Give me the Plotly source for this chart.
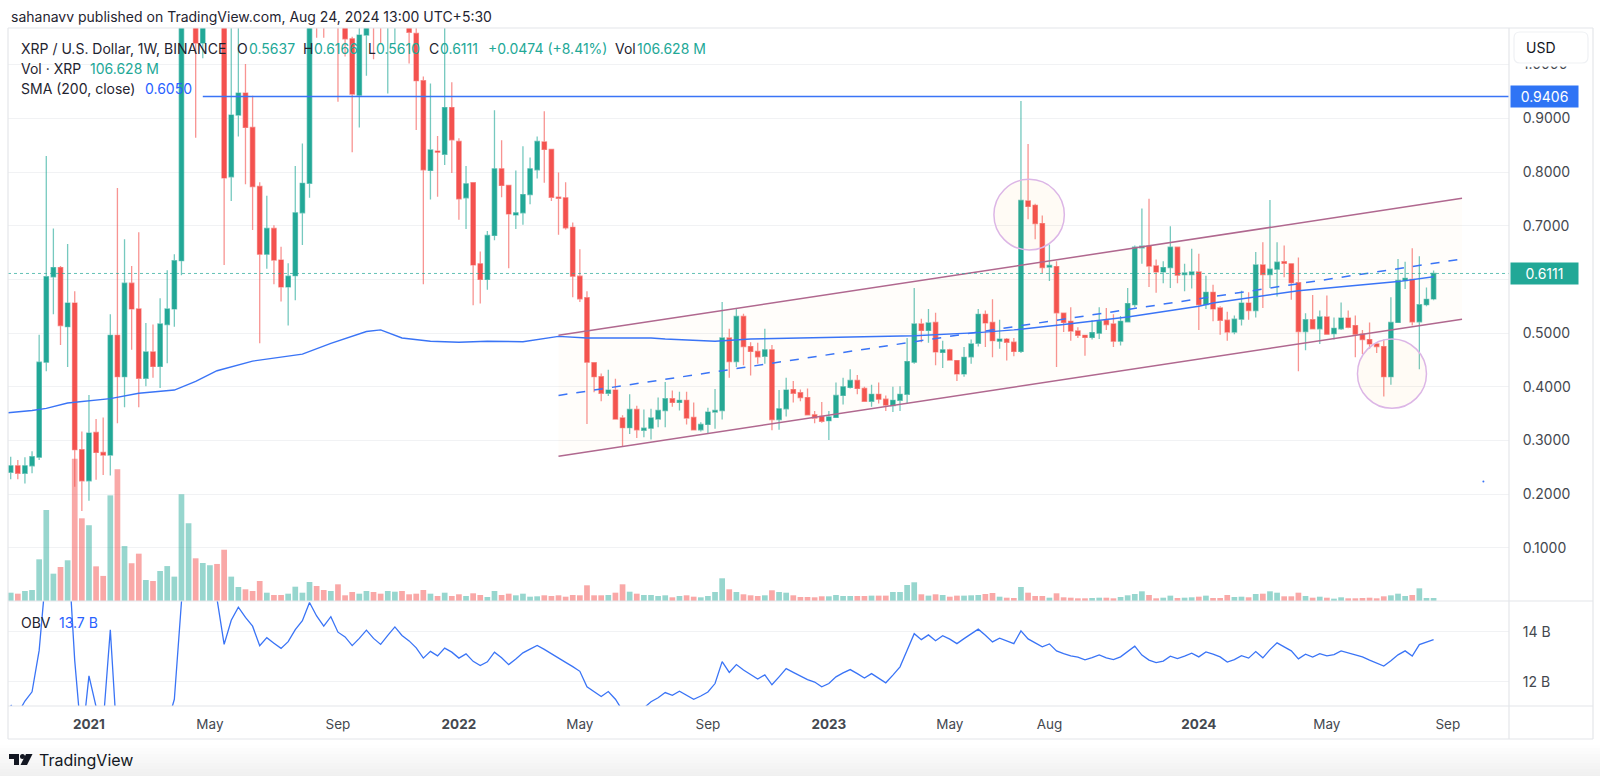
from datetime import datetime, timedelta
import plotly.graph_objects as go

W, H = 1600, 776
START = datetime(2020, 10, 19)

# weekly candles, bodies above the chart top are rough
opens = [.241,.253,.239,.253,.269,.446,.605,.622,.512,.556,
 .283,.225,.315,.278,.273,.496,.419,.593,.545,.416,
 .465,.438,.516,.545,.635,1.38,1.7,1.04,1.45,1.55,
 1.35,.791,.906,.947,.883,.773,.647,.695,.636,.586,
 .607,.724,.779,1.3,1.2,1.12,1.2,1.1,1.048,.943,
 1.055,1.25,1.12,1.08,1.15,1.2,1.16,1.058,.970,.803,
 .839,.833,.920,.857,.752,.780,.629,.600,.682,.806,
 .775,.720,.724,.758,.804,.856,.842,.753,.752,.697,
 .606,.566,.445,.419,.388,.394,.342,.324,.358,.319,
 .323,.340,.356,.378,.371,.375,.343,.320,.330,.353,
 .356,.491,.447,.531,.475,.466,.457,.469,.339,.359,
 .395,.389,.380,.348,.345,.337,.343,.384,.399,.412,
 .397,.373,.386,.377,.365,.375,.386,.446,.517,.505,
 .520,.464,.469,.449,.424,.456,.481,.535,.520,.485,
 .489,.483,.466,.746,.738,.704,.623,.624,.537,.522,
 .504,.496,.492,.500,.524,.517,.485,.521,.553,.659,
 .662,.625,.614,.622,.660,.609,.609,.614,.553,.576,
 .547,.524,.502,.526,.556,.542,.627,.609,.619,.633,
 .629,.594,.503,.525,.508,.530,.499,.508,.528,.514,
 .498,.488,.480,.475,.419,.520,.598,.600,.521,.553,.5637]
highs = [.270,.264,.269,.280,.497,.830,.695,.625,.666,.578,
 .317,.385,.340,.343,.535,.770,.675,.625,.688,.519,
 .516,.565,.617,.647,1.45,1.96,1.72,1.6,1.65,1.75,
 1.72,1.13,1.13,1.001,.942,.781,.756,.701,.661,.630,
 .811,.853,1.25,1.4,1.3,1.25,1.25,1.2,1.052,1.1,
 1.35,1.35,1.2,1.25,1.3,1.28,1.2,1.1,.978,.965,
 .867,1.08,.967,.863,.811,.781,.652,.690,.915,.859,
 .775,.803,.848,.827,.866,.913,.842,.799,.781,.706,
 .656,.578,.445,.425,.432,.415,.347,.386,.365,.358,
 .359,.380,.409,.393,.391,.391,.371,.334,.361,.396,
 .558,.508,.547,.536,.483,.482,.508,.478,.394,.417,
 .411,.395,.397,.355,.372,.355,.408,.417,.433,.422,
 .400,.404,.408,.384,.400,.401,.491,.584,.527,.545,
 .538,.486,.471,.449,.474,.488,.545,.542,.563,.525,
 .491,.491,.932,.852,.741,.719,.665,.634,.537,.548,
 .511,.497,.524,.548,.547,.535,.532,.584,.663,.732,
 .750,.637,.634,.699,.661,.629,.657,.648,.607,.590,
 .550,.540,.533,.579,.576,.651,.669,.748,.669,.663,
 .629,.641,.537,.571,.542,.570,.529,.557,.542,.533,
 .506,.520,.483,.488,.567,.638,.633,.658,.643,.585,.6166]
lows = [.228,.228,.220,.239,.264,.429,.535,.478,.437,.214,
 .169,.188,.227,.236,.235,.332,.362,.469,.362,.401,
 .417,.398,.444,.512,.608,1.25,.864,1.012,1.2,1.3,
 .627,.746,.866,.777,.692,.481,.620,.591,.559,.514,
 .561,.664,.752,1.05,1.05,1.08,.931,1.015,.837,.883,
 .979,1.01,1.04,.946,1.04,1.09,1.002,.878,.591,.749,
 .754,.813,.798,.711,.694,.552,.555,.581,.673,.753,
 .621,.694,.702,.740,.788,.780,.746,.683,.693,.567,
 .558,.331,.390,.373,.383,.339,.288,.312,.305,.306,
 .302,.325,.325,.363,.356,.330,.319,.317,.312,.322,
 .339,.417,.437,.440,.421,.443,.443,.319,.320,.345,
 .371,.373,.347,.332,.333,.301,.343,.367,.397,.386,
 .372,.363,.369,.355,.353,.355,.370,.443,.483,.482,
 .440,.435,.449,.411,.419,.443,.475,.474,.455,.471,
 .449,.457,.463,.712,.675,.612,.597,.437,.502,.486,
 .491,.458,.488,.489,.506,.474,.477,.520,.548,.629,
 .586,.575,.593,.584,.593,.578,.583,.506,.545,.522,
 .497,.486,.498,.514,.525,.529,.547,.584,.568,.604,
 .562,.429,.468,.508,.480,.497,.488,.506,.509,.455,
 .461,.471,.463,.382,.404,.520,.582,.514,.433,.550,.5610]
closes = [.253,.239,.253,.270,.446,.605,.622,.514,.556,.283,
 .225,.314,.278,.273,.496,.419,.593,.545,.416,.465,
 .438,.517,.545,.635,1.38,1.7,1.04,1.45,1.55,1.35,
 .789,.906,.947,.883,.773,.647,.695,.636,.586,.606,
 .724,.779,1.2,1.2,1.12,1.2,1.1,1.048,.945,1.055,
 1.09,1.12,1.08,1.15,1.2,1.16,1.06,.970,.804,.841,
 .837,.920,.860,.750,.778,.627,.600,.682,.806,.775,
 .722,.724,.758,.806,.857,.842,.753,.751,.696,.606,
 .564,.446,.419,.388,.394,.340,.324,.358,.320,.323,
 .342,.356,.378,.371,.375,.342,.320,.330,.353,.356,
 .491,.447,.531,.475,.466,.456,.469,.339,.359,.394,
 .388,.380,.348,.342,.336,.344,.384,.400,.412,.397,
 .373,.386,.377,.366,.375,.386,.447,.517,.505,.519,
 .465,.469,.450,.424,.455,.480,.535,.519,.486,.489,
 .483,.466,.747,.736,.704,.622,.626,.538,.520,.504,
 .496,.492,.501,.522,.516,.485,.522,.555,.660,.662,
 .625,.614,.622,.660,.608,.612,.614,.553,.576,.545,
 .524,.502,.526,.556,.542,.627,.609,.619,.632,.630,
 .594,.503,.525,.508,.530,.498,.509,.528,.511,.498,
 .488,.480,.475,.419,.520,.598,.602,.521,.553,.563,.6111]

# volume in millions of XRP
volumes = [295,260,355,390,1480,3230,970,1207,1445,5050,
 2935,2690,1230,890,3750,4675,1950,1340,1680,745,
 710,1065,1240,865,3790,2760,1515,1350,1270,1315,
 1820,865,497,415,355,710,295,213,213,260,
 508,295,675,532,390,355,592,202,320,260,
 355,320,260,355,330,355,238,260,390,260,
 178,295,178,238,178,273,213,142,355,213,
 260,202,260,153,167,202,178,202,153,213,
 202,557,202,202,213,295,592,330,260,213,
 213,178,202,131,178,202,153,131,178,320,
 806,415,320,238,202,178,202,380,320,295,
 202,142,142,131,167,167,213,178,178,178,
 178,190,190,190,320,320,568,664,238,190,
 238,213,153,190,190,202,213,249,284,153,
 117,106,497,295,178,178,117,273,131,117,
 95,95,106,117,117,95,142,202,249,344,
 213,95,117,190,106,117,131,153,190,106,
 106,213,142,153,131,249,260,344,295,166,
 166,295,178,117,153,117,83,131,95,95,
 106,117,95,166,201,260,178,213,450,106,106.628]

# on balance volume in billions, off-panel stretches are rough
obv = [11.07,10.72,11.23,11.6,13.26,16.5,17.4,16.2,17.65,12.85,
 9.55,12.24,11.0,10.34,14.09,9.42,11.0,9.66,7.98,8.7,
 8.0,9.1,10.3,11.3,15.2,17.9,16.4,17.7,16.63,15.32,
 13.5,14.47,14.99,14.58,14.23,13.45,13.77,13.55,13.34,13.61,
 14.09,14.45,15.18,14.64,14.23,14.61,13.99,13.8,13.45,13.74,
 14.07,13.74,13.5,13.86,14.2,13.86,13.64,13.36,12.95,13.22,
 13.04,13.35,13.19,12.95,13.12,12.82,12.65,12.8,13.19,12.96,
 12.69,12.91,13.16,13.31,13.46,13.3,13.12,12.93,12.78,12.61,
 12.42,11.8,11.61,11.41,11.61,11.3,10.85,11.0,10.82,10.95,
 11.2,11.36,11.57,11.46,11.62,11.46,11.3,11.43,11.59,11.93,
 12.81,12.38,12.69,12.47,12.28,12.11,12.28,11.88,12.2,12.53,
 12.38,12.23,12.09,11.99,11.8,11.93,12.2,12.36,12.49,12.33,
 12.15,12.33,12.15,11.96,12.27,12.6,13.27,13.93,13.69,13.88,
 13.65,13.85,13.71,13.53,13.73,13.93,14.11,13.87,13.6,13.75,
 13.63,13.53,14.04,13.72,13.56,13.4,13.52,13.24,13.13,13.04,
 12.99,12.88,12.97,13.08,12.96,12.89,13.0,13.2,13.43,13.07,
 12.87,12.77,12.83,13.03,12.93,13.03,13.15,13.0,13.2,13.11,
 13.0,12.79,12.89,13.05,12.95,13.21,12.96,13.29,13.56,13.4,
 13.24,12.92,13.11,12.99,13.13,13.04,13.09,13.24,13.16,13.08,
 13.0,12.87,12.76,12.63,12.84,13.08,13.24,13.03,13.49,13.59,13.69]

# SMA 200 read at its bends, position in weeks from the first candle
sma_weeks = [-1,0,3,5,8,14,18,23,26,29,34,41,45,50,52,55,59,63,67,72,77,81,90,92,99,104,111,127,136,141,148,157,167,169,181,195,200]
sma_vals = [.351,.352,.356,.360,.370,.378,.388,.394,.410,.430,.448,.461,.481,.503,.506,.491,.485,.483,.485,.484,.494,.491,.491,.489,.485,.489,.491,.495,.501,.506,.516,.530,.550,.556,.579,.596,.605]

# drawings
channel_weeks = [77, 204]
channel_upper = [.496, .751]
channel_mid = [.384, .638]
channel_lower = [.271, .526]
resistance = .9406
last_close = .6111
circle_top = dict(w0=138.2, w1=148.1, p0=.6548, p1=.7864)
circle_bottom = dict(w0=189.3, w1=199.0, p0=.3601, p1=.4891)

price_ticks = [.1, .2, .3, .4, .5, .6, .7, .8, .9, 1.0]
obv_ticks = [12, 14]
obv_labels = ['12 B', '14 B']
time_tick_weeks = [11, 28, 46, 63, 80, 98, 115, 132, 146, 167, 185, 202]
time_tick_labels = ['<b>2021</b>', 'May', 'Sep', '<b>2022</b>', 'May', 'Sep',
                    '<b>2023</b>', 'May', 'Aug', '<b>2024</b>', 'May', 'Sep']

GREEN = '#22a897'
RED = '#f4524f'
BLUE = '#3a74f6'
INK = '#1f2430'
AXIS_TXT = '#44484f'
GRID = '#f1f2f4'
BORDER = '#e4e6ea'
FONT = 'Inter'


def wk(w):
    return START + timedelta(days=7 * w)


def px(x):
    return x / W


def py(y):
    return 1 - y / H


dates = [wk(i) for i in range(len(closes))]
vol_colors = ['rgba(34,168,151,0.47)' if c >= o else 'rgba(244,82,79,0.5)'
              for o, c in zip(opens, closes)]

fig = go.Figure()

fig.add_trace(go.Bar(x=dates, y=volumes, marker=dict(color=vol_colors, line_width=0),
                     yaxis='y', hoverinfo='skip'))

# channel fill goes under the candles
fig.add_trace(go.Scatter(
    x=[wk(channel_weeks[0]), wk(channel_weeks[1]), wk(channel_weeks[1]), wk(channel_weeks[0])],
    y=[channel_upper[0], channel_upper[1], channel_lower[1], channel_lower[0]],
    fill='toself', fillcolor='rgba(255,170,60,0.025)', mode='none', yaxis='y2', hoverinfo='skip'))

fig.add_trace(go.Candlestick(
    x=dates, open=opens, high=highs, low=lows, close=closes, yaxis='y2',
    whiskerwidth=0, hoverinfo='skip',
    increasing=dict(fillcolor=GREEN, line=dict(color='rgba(34,168,151,0.62)', width=1.3)),
    decreasing=dict(fillcolor=RED, line=dict(color='rgba(244,82,79,0.62)', width=1.3))))

fig.add_trace(go.Scatter(x=[wk(w) for w in sma_weeks], y=sma_vals, mode='lines', yaxis='y2',
                         line=dict(color=BLUE, width=1.4), hoverinfo='skip'))

for vals, dash, color in [(channel_upper, 'solid', '#b0688f'), (channel_lower, 'solid', '#b0688f'),
                          (channel_mid, 'dash', BLUE)]:
    fig.add_trace(go.Scatter(x=[wk(w) for w in channel_weeks], y=vals, mode='lines', yaxis='y2',
                             line=dict(color=color, width=1.5, dash=dash), hoverinfo='skip'))

# small stray mark right of the candles
fig.add_trace(go.Scatter(x=[wk(207)], y=[.2236], mode='markers', yaxis='y2',
                         marker=dict(color=BLUE, size=2), hoverinfo='skip'))

fig.add_trace(go.Scatter(x=dates, y=obv, mode='lines', yaxis='y3',
                         line=dict(color=BLUE, width=1.3), hoverinfo='skip'))

shapes = []
for c in (circle_top, circle_bottom):
    shapes.append(dict(type='circle', xref='x', yref='y2', x0=wk(c['w0']), x1=wk(c['w1']),
                       y0=c['p0'], y1=c['p1'], layer='above',
                       fillcolor='rgba(255,170,60,0.05)', line=dict(color='#dcb6e6', width=1.5)))

shapes.append(dict(type='line', xref='x', yref='y2', x0=wk(27), x1=wk(210.6), y0=resistance, y1=resistance,
                   layer='above', line=dict(color=BLUE, width=1.3)))
shapes.append(dict(type='line', xref='paper', yref='y2', x0=px(8), x1=px(1509), y0=last_close, y1=last_close,
                   layer='above', line=dict(color='rgba(34,168,151,0.7)', width=1, dash='dot')))


def frame(x0, y0, x1, y1):
    shapes.append(dict(type='line', xref='paper', yref='paper', x0=px(x0), x1=px(x1), y0=py(y0), y1=py(y1),
                       layer='above', line=dict(color=BORDER, width=1.2)))


frame(8, 28, 1593, 28)
frame(8, 739, 1593, 739)
frame(8, 28, 8, 739)
frame(1593, 28, 1593, 739)
frame(1509, 28, 1509, 739)
frame(8, 601, 1593, 601)
frame(8, 706, 1593, 706)

# white strip and USD button hide most of the 1.0000 tick like the reference
shapes.append(dict(type='rect', xref='paper', yref='paper', layer='above', fillcolor='white', line_width=0,
                   x0=px(1511), x1=px(1591), y0=py(66.5), y1=py(58)))
x0, x1, y0, y1 = px(1514), px(1588), py(32), py(63)
rx, ry = 6 / W, 6 / H
shapes.append(dict(type='path', xref='paper', yref='paper', layer='above', fillcolor='white',
                   line=dict(color='#eff1f4', width=1.2),
                   path=f'M{x0+rx},{y0} L{x1-rx},{y0} Q{x1},{y0} {x1},{y0-ry} L{x1},{y1+ry} Q{x1},{y1} {x1-rx},{y1} '
                        f'L{x0+rx},{y1} Q{x0},{y1} {x0},{y1+ry} L{x0},{y0-ry} Q{x0},{y0} {x0+rx},{y0} Z'))

# footer fades to grey
for k in range(12):
    g = 255 - k * 1.4
    shapes.append(dict(type='rect', xref='paper', yref='paper', x0=0, x1=1, y0=py(742 + k * 3), y1=py(745 + k * 3 + (2 if k == 11 else 0)),
                       layer='below', fillcolor=f'rgb({g:.0f},{g:.0f},{g:.0f})', line_width=0))


def poly(pts):
    return 'M' + ' L'.join(f'{px(a)},{py(b)}' for a, b in pts) + ' Z'


# TradingView logo
shapes.append(dict(type='path', xref='paper', yref='paper', fillcolor='#131722', line_width=0, layer='above',
                   path=poly([(9, 754), (19, 754), (19, 765), (14, 765), (14, 759), (9, 759)])))
shapes.append(dict(type='circle', xref='paper', yref='paper', x0=px(20), x1=px(25), y0=py(759), y1=py(754),
                   fillcolor='#131722', line_width=0, layer='above'))
shapes.append(dict(type='path', xref='paper', yref='paper', fillcolor='#131722', line_width=0, layer='above',
                   path=poly([(26, 754), (32.5, 754), (27, 765), (20.5, 765)])))

ann = []


def text(x, y, s, color=INK, size=14, anchor='left'):
    ann.append(dict(x=px(x), y=py(y), xref='paper', yref='paper', text=s, showarrow=False, xanchor=anchor,
                    yanchor='middle', align='left', font=dict(family=FONT, size=size, color=color)))


text(9, 16, 'sahanavv published on TradingView.com, Aug 24, 2024 13:00 UTC+5:30', INK, 14)
text(18.5, 48.7, 'XRP / U.S. Dollar, 1W, BINANCE')
for x, lab, val_x, val in [(235, 'O', 246.5, '0.5637'), (301, 'H', 311.7, '0.6166'),
                           (365.7, 'L', 374, '0.5610'), (427, 'C', 438, '0.6111')]:
    text(x, 48.7, lab)
    text(val_x, 48.7, val, GREEN)
text(486, 48.7, '+0.0474 (+8.41%)', GREEN)
text(613, 48.7, 'Vol')
text(635, 48.7, '106.628 M', GREEN)
text(18.5, 68.7, 'Vol · XRP')
text(88, 68.7, '106.628 M', GREEN)
text(18.5, 88.7, 'SMA (200, close)')
text(142.5, 88.7, '0.6050', '#2962ff')
text(18.5, 622.7, 'OBV')
text(56.5, 622.7, '13.7 B', '#2962ff')
text(1524, 47.5, 'USD', '#131722', 14)
text(37, 760, 'TradingView', '#131722', 16)

for price, color in [(resistance, '#2f74f5'), (last_close, GREEN)]:
    ann.append(dict(x=px(1510), y=price, xref='paper', yref='y2', text=f'{price:.4f}', showarrow=False,
                    xanchor='left', yanchor='middle', width=65, height=19, bgcolor=color, align='center',
                    font=dict(family=FONT, size=14, color='white')))

# transparent tick marks push the price labels clear of the axis
y_tick_style = dict(ticks='outside', ticklen=10, tickcolor='rgba(0,0,0,0)', tickwidth=1)

fig.update_layout(
    width=W, height=H, margin=dict(l=0, r=0, t=0, b=0), autosize=False,
    paper_bgcolor='white', plot_bgcolor='white', showlegend=False,
    boxgap=0.12, bargap=0.2,
    shapes=shapes, annotations=ann,
    font=dict(family=FONT, size=14, color=AXIS_TXT),
    xaxis=dict(domain=[px(8), px(1509)], anchor='y3', type='date', range=[wk(-0.38), wk(210.6)],
               showgrid=False, zeroline=False, showline=False, ticks='', ticklabelstandoff=8,
               tickmode='array', tickvals=[wk(w) for w in time_tick_weeks], ticktext=time_tick_labels,
               tickfont=dict(family=FONT, size=13.5, color=AXIS_TXT), rangeslider=dict(visible=False)),
    yaxis=dict(domain=[py(601), py(28)], anchor='x', range=[0, 20340], visible=False, fixedrange=True),
    yaxis2=dict(overlaying='y', anchor='x', side='right', range=[.0013, 1.0681], tickmode='array',
                tickvals=price_ticks, tickformat='.4f', showgrid=True, gridcolor=GRID, gridwidth=1.4,
                zeroline=False, showline=False, tickfont=dict(family=FONT, size=14, color=AXIS_TXT),
                **y_tick_style),
    yaxis3=dict(domain=[py(706), py(601)], anchor='x', side='right', range=[11.03, 15.24], tickmode='array',
                tickvals=obv_ticks, ticktext=obv_labels, showgrid=True, gridcolor=GRID, gridwidth=1.4,
                zeroline=False, showline=False, tickfont=dict(family=FONT, size=14, color=AXIS_TXT),
                **y_tick_style),
)

fig.write_html("out.html", config={'displayModeBar': False}, post_script="document.body.style.margin='0';")
